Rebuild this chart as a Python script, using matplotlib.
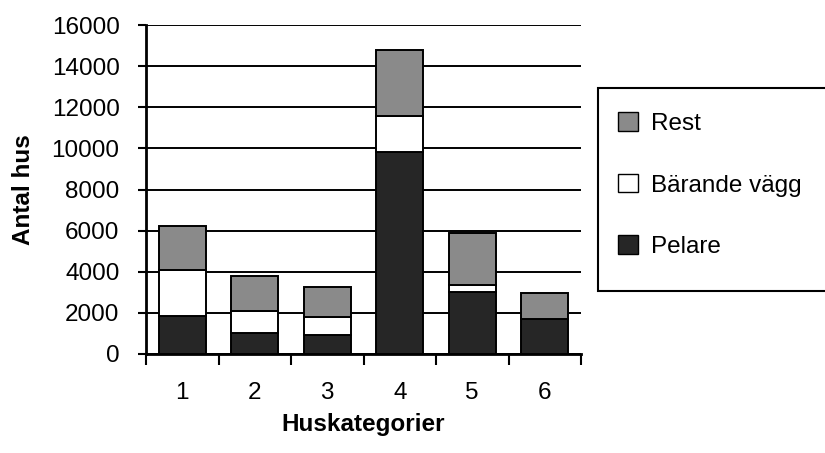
import numpy as np
import matplotlib.pyplot as plt
from matplotlib.patches import Rectangle, Patch

plt.rcParams['font.family'] = ['Liberation Sans', 'DejaVu Sans']

# ======================================================
# DATA
# ======================================================
categories = ["1", "2", "3", "4", "5", "6"]
pelare = [1850, 1020, 920, 9830, 3020, 1700]
barande_vagg = [2240, 1070, 880, 1750, 340, 0]
rest = [2140, 1710, 1460, 3210, 2530, 1270]

series_labels = ["Pelare", "Bärande vägg", "Rest"]

# ======================================================
# PLOT
# ======================================================
FS = 17.5
fig = plt.figure(figsize=(8.25, 4.53), dpi=100)
ax = fig.add_axes([146 / 825, 1 - 354 / 453, 435 / 825, 329 / 453])

x = np.arange(1, len(categories) + 1)
width = 0.65
colors = ["#262626", "white", "#8a8a8a"]

bottom = np.zeros(len(categories))
handles = []
for vals, lab, col in zip([pelare, barande_vagg, rest], series_labels, colors):
    ax.bar(x, vals, width, bottom=bottom, color=col, edgecolor="black",
           linewidth=1.4, zorder=3)
    handles.append(Patch(facecolor=col, edgecolor="black", linewidth=1.0, label=lab))
    bottom += np.array(vals)

ax.set_xlim(0.5, len(categories) + 0.5)
ax.set_ylim(0, 16000)
ax.set_yticks(np.arange(0, 16001, 2000))
ax.yaxis.grid(True, color="black", linewidth=1.4, zorder=0)
ax.set_axisbelow(True)

# boundary ticks without labels, category labels on minor ticks
ax.set_xticks(np.arange(0.5, len(categories) + 1, 1.0))
ax.set_xticklabels([])
ax.set_xticks(x, minor=True)
ax.set_xticklabels(categories, minor=True)
ax.tick_params(axis="x", which="major", length=8, width=1.5, direction="out")
ax.tick_params(axis="x", which="minor", length=0, pad=20.5, labelsize=FS)
ax.tick_params(axis="y", length=6, width=1.5, pad=13, labelsize=FS)

for side in ["top", "right"]:
    ax.spines[side].set_visible(False)
ax.spines["left"].set_linewidth(2)
ax.spines["bottom"].set_linewidth(2)

ax.set_ylabel("Antal hus", fontsize=FS, fontweight="bold", labelpad=12)
ax.set_xlabel("Huskategorier", fontsize=FS, fontweight="bold", labelpad=6)

# legend box runs off the right edge
fig.patches.append(Rectangle((598 / 825, 1 - 291 / 453), 240 / 825, 203 / 453,
                             transform=fig.transFigure, facecolor="white",
                             edgecolor="black", linewidth=1.5, clip_on=False))
fig.legend(handles=handles[::-1], loc="upper left",
           bbox_to_anchor=(606 / 825, 1 - 100 / 453), frameon=False,
           fontsize=FS, handlelength=0.8, handleheight=0.8,
           handletextpad=0.55, labelspacing=1.6, borderpad=0)

fig.savefig("out.png", dpi=100, facecolor="white")
